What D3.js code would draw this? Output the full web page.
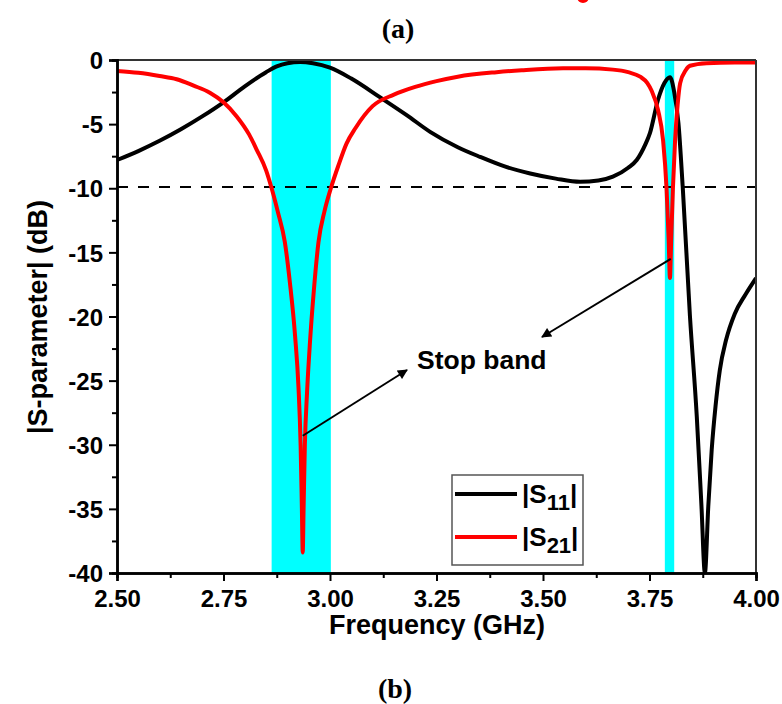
<!DOCTYPE html>
<html><head><meta charset="utf-8">
<script src="https://cdnjs.cloudflare.com/ajax/libs/d3/7.8.5/d3.min.js"></script>
<style>body{margin:0;background:#fff}svg{display:block}</style>
</head><body>
<svg id="c" width="782" height="704"></svg>
<script>
const s11Freq = [2.50,2.55,2.60,2.65,2.70,2.75,2.80,2.85,2.875,2.90,2.93,2.96,3.00,3.05,3.117,3.18,3.235,3.30,3.352,3.41,3.47,3.53,3.587,3.63,3.664,3.70,3.72,3.74,3.751,3.77,3.785,3.798,3.808,3.818,3.828,3.845,3.861,3.872,3.880,3.888,3.896,3.905,3.915,3.930,3.950,3.975,4.00];
const s11dB   = [-7.8,-7.1,-6.3,-5.4,-4.4,-3.3,-2.05,-0.95,-0.5,-0.25,-0.15,-0.25,-0.6,-1.45,-2.9,-4.3,-5.6,-6.8,-7.55,-8.3,-8.85,-9.25,-9.5,-9.4,-9.1,-8.4,-7.8,-6.6,-5.7,-3.1,-1.8,-1.35,-2.5,-4.95,-9.9,-20,-27.8,-34.8,-40,-34.8,-30.4,-27,-24.2,-21.8,-19.8,-18.3,-17.0];
const s21Freq = [2.50,2.55,2.60,2.64,2.68,2.718,2.75,2.781,2.81,2.828,2.85,2.863,2.878,2.894,2.906,2.918,2.926,2.931,2.934,2.936,2.938,2.941,2.946,2.953,2.962,2.973,2.987,3.002,3.02,3.039,3.06,3.10,3.15,3.20,3.25,3.30,3.391,3.45,3.547,3.60,3.664,3.70,3.728,3.745,3.755,3.77,3.782,3.79,3.795,3.798,3.801,3.805,3.810,3.816,3.822,3.835,3.845,3.884,3.95,4.00];
const s21dB   = [-0.85,-1.0,-1.25,-1.5,-2.0,-2.55,-3.3,-4.4,-5.8,-7.0,-8.6,-10,-11.9,-14.2,-17.4,-21.5,-25.5,-30,-35,-38.4,-35,-30,-26,-22,-18,-14.2,-11.8,-10,-8.2,-6.5,-5.3,-3.6,-2.7,-2.1,-1.65,-1.3,-0.95,-0.8,-0.65,-0.65,-0.75,-0.95,-1.3,-1.8,-2.4,-3.9,-6.3,-10,-14,-17,-14,-10,-6.3,-3.5,-1.8,-0.8,-0.45,-0.25,-0.2,-0.2];
const stopBands = [[2.863,3.002],[3.786,3.808]];
const refLevel = -9.9;
const xTicks = [2.50,2.75,3.00,3.25,3.50,3.75,4.00];
const yTicks = [0,-5,-10,-15,-20,-25,-30,-35,-40];
const seriesNames = ["11","21"];

const svg = d3.select("#c");
const L=117,R=756,T=60,B=573;
const x = d3.scaleLinear().domain([2.5,4.0]).range([L,R]);
const y = d3.scaleLinear().domain([0,-40]).range([T,B]);
const font = "'Liberation Sans', Arial, sans-serif";

svg.selectAll("rect.band").data(stopBands).enter().append("rect")
  .attr("x",d=>x(d[0])).attr("width",d=>x(d[1])-x(d[0]))
  .attr("y",T).attr("height",B-T).attr("fill","#00ffff");

svg.append("line").attr("x1",L).attr("x2",R).attr("y1",y(refLevel)).attr("y2",y(refLevel))
  .attr("stroke","#000").attr("stroke-width",2).attr("stroke-dasharray","11,10");

svg.append("clipPath").attr("id","clip").append("rect").attr("x",L).attr("y",T-3).attr("width",R-L).attr("height",B-T+3);

const line = d3.line().x(d=>x(d[0])).y(d=>y(d[1])).curve(d3.curveMonotoneX);
const g = svg.append("g").attr("clip-path","url(#clip)");
g.append("path").attr("d",line(s11Freq.map((f,i)=>[f,s11dB[i]])))
  .attr("fill","none").attr("stroke","#000").attr("stroke-width",4).attr("stroke-linejoin","round");
g.append("path").attr("d",line(s21Freq.map((f,i)=>[f,s21dB[i]])))
  .attr("fill","none").attr("stroke","#ff0000").attr("stroke-width",4).attr("stroke-linejoin","round");

svg.append("line").attr("x1",L).attr("x2",R).attr("y1",T).attr("y2",T).attr("stroke","#333").attr("stroke-width",2);
svg.append("line").attr("x1",R).attr("x2",R).attr("y1",T).attr("y2",B).attr("stroke","#333").attr("stroke-width",2);

const hy = v => String(v).replace("\u2212","-");
const xAxis = svg.append("g").attr("transform",`translate(0,${B})`)
  .call(d3.axisBottom(x).tickValues(xTicks).tickFormat(d=>d.toFixed(2)).tickSize(8).tickPadding(9));
const xMinor = svg.append("g").attr("transform",`translate(0,${B})`)
  .call(d3.axisBottom(x).tickValues(xTicks.slice(0,-1).map(v=>v+0.125)).tickFormat("").tickSize(5));
const yAxis = svg.append("g").attr("transform",`translate(${L},0)`)
  .call(d3.axisLeft(y).tickValues(yTicks).tickFormat(d=>hy(d.toFixed(0))).tickSize(8).tickPadding(6));
const yMinor = svg.append("g").attr("transform",`translate(${L},0)`)
  .call(d3.axisLeft(y).tickValues(yTicks.slice(0,-1).map(v=>v-2.5)).tickFormat("").tickSize(5));
[xAxis,xMinor,yAxis,yMinor].forEach(a=>{
  a.selectAll("path.domain").attr("stroke","#000").attr("stroke-width",2.5);
  a.selectAll(".tick line").attr("stroke","#000").attr("stroke-width",2);
  a.selectAll("text").attr("font-family",font).attr("font-weight","bold").attr("font-size",24).attr("fill","#000");
});
yAxis.selectAll("text").attr("dy","0.36em");

svg.append("text").attr("x",437).attr("y",634).attr("text-anchor","middle")
  .attr("font-family",font).attr("font-weight","bold").attr("font-size",27).text("Frequency (GHz)");
svg.append("text").attr("transform","translate(47,317) rotate(-90)").attr("text-anchor","middle")
  .attr("font-family",font).attr("font-weight","bold").attr("font-size",27).text("|S-parameter| (dB)");

const serif = "'Liberation Serif', 'Times New Roman', serif";
svg.append("text").attr("x",398).attr("y",38).attr("text-anchor","middle")
  .attr("font-family",serif).attr("font-weight","bold").attr("font-size",28).text("(a)");
svg.append("text").attr("x",395).attr("y",698).attr("text-anchor","middle")
  .attr("font-family",serif).attr("font-weight","bold").attr("font-size",28).text("(b)");
svg.append("circle").attr("cx",583).attr("cy",-3).attr("r",6).attr("fill","#ff0000");

svg.append("defs").append("marker").attr("id","ah").attr("viewBox","0 0 10 10").attr("refX",9).attr("refY",5)
  .attr("markerWidth",6).attr("markerHeight",5).attr("orient","auto").attr("markerUnits","strokeWidth")
  .append("path").attr("d","M0,0 L10,5 L0,10 z").attr("fill","#000");
svg.append("line").attr("x1",x(2.936)).attr("y1",y(-29.3)).attr("x2",407).attr("y2",370)
  .attr("stroke","#000").attr("stroke-width",2).attr("marker-end","url(#ah)");
svg.append("line").attr("x1",x(3.800)).attr("y1",y(-15.5)).attr("x2",542).attr("y2",337)
  .attr("stroke","#000").attr("stroke-width",2).attr("marker-end","url(#ah)");
svg.append("text").attr("x",417).attr("y",369).attr("font-family",font).attr("font-weight","bold")
  .attr("font-size",26.5).text("Stop band");

const lg = svg.append("g");
lg.append("rect").attr("x",452).attr("y",475).attr("width",131).attr("height",90)
  .attr("fill","#fff").attr("stroke","#555").attr("stroke-width",1.5);
const colors = ["#000","#ff0000"];
seriesNames.forEach((n,i)=>{
  const yy = 494 + i*43;
  lg.append("line").attr("x1",455).attr("x2",517).attr("y1",yy).attr("y2",yy).attr("stroke",colors[i]).attr("stroke-width",4);
  const t = lg.append("text").attr("x",522).attr("y",yy+9).attr("font-family",font).attr("font-weight","bold").attr("font-size",26);
  t.append("tspan").text("|S");
  t.append("tspan").attr("font-size",22).attr("dy",7).text(n);
  t.append("tspan").attr("dy",-7).text("|");
});
</script>
</body></html>
